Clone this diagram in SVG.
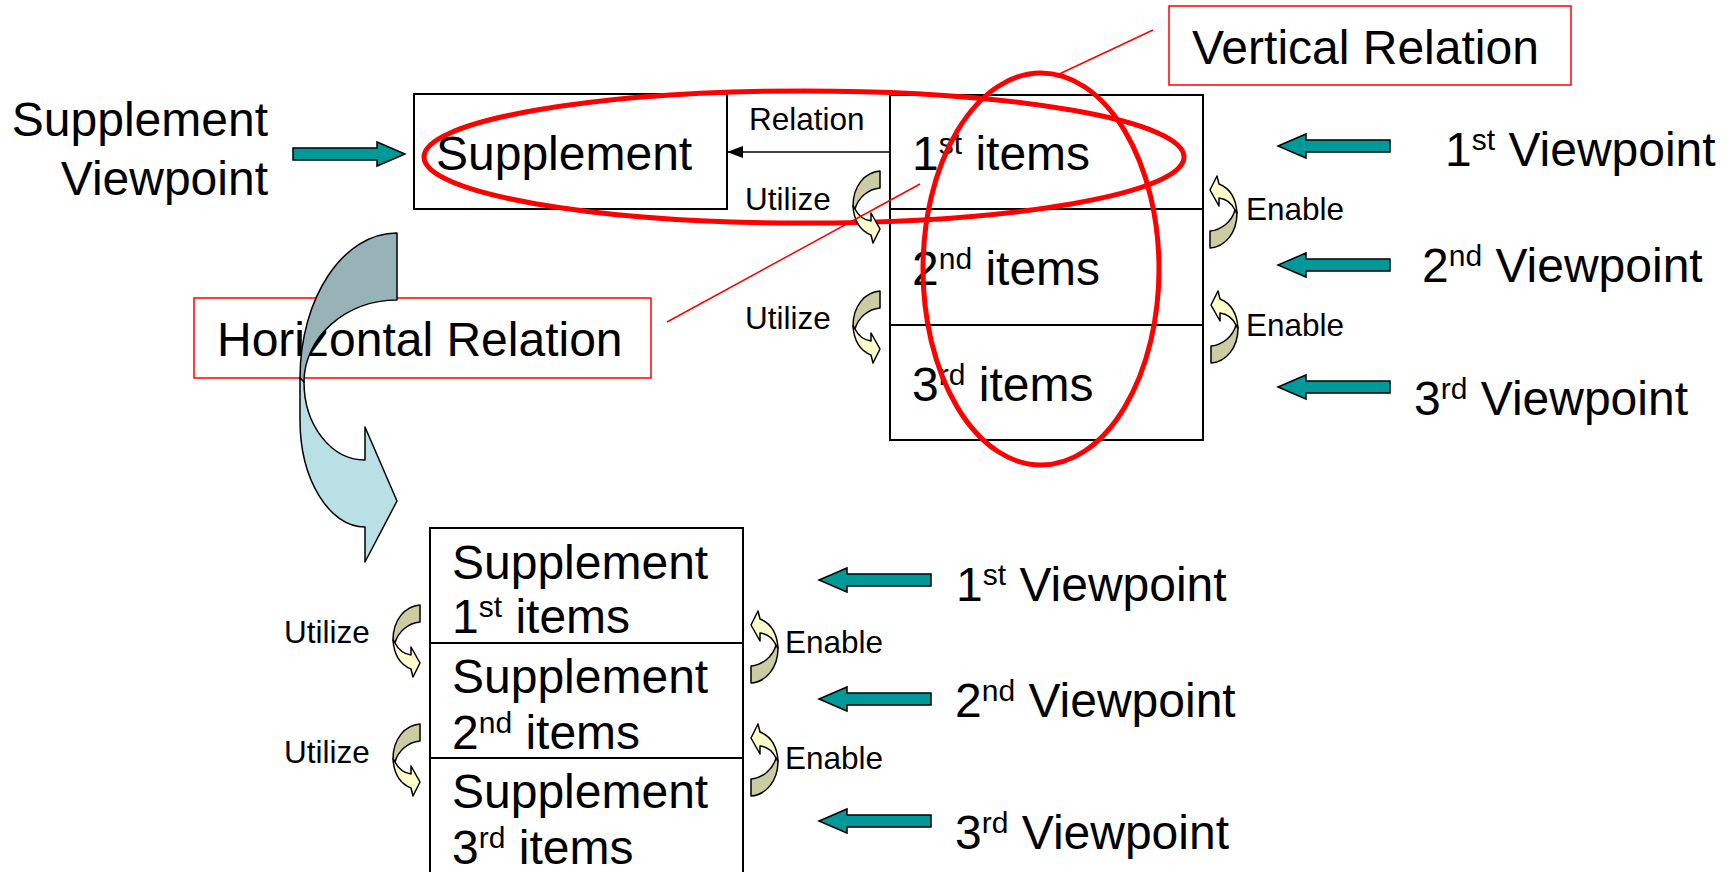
<svg xmlns="http://www.w3.org/2000/svg" width="1727" height="872" viewBox="0 0 1727 872">
  <style>
    text { font-family: "Liberation Sans", Arial, sans-serif; fill: #000; }
    .big { font-size: 48px; }
    .small { font-size: 31.5px; }
    .box { fill: #fff; stroke: #000; stroke-width: 2; }
    .div { stroke: #000; stroke-width: 2; }
    .callout { fill: #fff; stroke: #ff0000; stroke-width: 1.5; }
    .lead { stroke: #ff0000; stroke-width: 1.5; fill: none; }
    .ring { fill: none; stroke: #ff0000; stroke-width: 5; }
    .teal { fill: #009999; stroke: #000; stroke-width: 1.5; }
    .cdark { fill: #cccca3; stroke: #000; stroke-width: 1.5; stroke-linejoin: round; }
    .clight { fill: #ffffcc; stroke: #000; stroke-width: 1.5; stroke-linejoin: round; }
  </style>
  <defs>
    <!-- block arrow pointing right, origin at tail centre -->
    <path id="tealArrow" class="teal" d="M0,-6 H84 V-12 L112,0 L84,12 V6 H0 Z"/>
    <!-- small twisted curved arrow: tail top-right, head bottom-right -->
    <g id="curl">
      <path class="cdark" d="M27,0 C12,1 0,15 0,35 L2,38 C5,27 15,18 27,17 Z"/>
      <path class="clight" d="M0,35 C1,50 8,60 18,64 L20,72 L27,58 L18,42 L18,50 C10,49 5,44 2,38 Z"/>
    </g>
    <marker id="tri" markerWidth="16" markerHeight="12" refX="15" refY="6" orient="auto" markerUnits="userSpaceOnUse">
      <path d="M0,0 L16,6 L0,12 Z" fill="#000"/>
    </marker>
  </defs>

  <rect width="1727" height="872" fill="#fff"/>

  <!-- top-left caption -->
  <g id="supplement-viewpoint">
    <text class="big" x="268" y="136" text-anchor="end">Supplement</text>
    <text class="big" x="268" y="195" text-anchor="end">Viewpoint</text>
  </g>

  <!-- supplement box -->
  <g id="supplement">
    <rect class="box" x="414" y="94" width="313" height="115"/>
    <text class="big" x="436" y="170">Supplement</text>
  </g>

  <!-- stacked items box -->
  <g id="items">
    <rect class="box" x="890" y="95" width="313" height="345"/>
    <line class="div" x1="890" y1="209" x2="1203" y2="209"/>
    <line class="div" x1="890" y1="325" x2="1203" y2="325"/>
    <text class="big" x="912" y="170">1<tspan font-size="30" dy="-16">st</tspan><tspan dy="16"> items</tspan></text>
    <text class="big" x="912" y="285">2<tspan font-size="30" dy="-16">nd</tspan><tspan dy="16"> items</tspan></text>
    <text class="big" x="912" y="401">3<tspan font-size="30" dy="-16">rd</tspan><tspan dy="16"> items</tspan></text>
  </g>

  <!-- right-hand viewpoints (top) -->
  <g id="viewpoints-top">
    <text class="big" x="1445" y="166">1<tspan font-size="30" dy="-16">st</tspan><tspan dy="16"> Viewpoint</tspan></text>
    <text class="big" x="1422" y="282">2<tspan font-size="30" dy="-16">nd</tspan><tspan dy="16"> Viewpoint</tspan></text>
    <text class="big" x="1414" y="415">3<tspan font-size="30" dy="-16">rd</tspan><tspan dy="16"> Viewpoint</tspan></text>
  </g>

  <!-- combined box (bottom) -->
  <g id="combined">
    <rect class="box" x="430" y="528" width="313" height="360"/>
    <line class="div" x1="430" y1="643" x2="743" y2="643"/>
    <line class="div" x1="430" y1="758" x2="743" y2="758"/>
    <text class="big" x="452" y="579">Supplement</text>
    <text class="big" x="452" y="633">1<tspan font-size="30" dy="-16">st</tspan><tspan dy="16"> items</tspan></text>
    <text class="big" x="452" y="693">Supplement</text>
    <text class="big" x="452" y="749">2<tspan font-size="30" dy="-16">nd</tspan><tspan dy="16"> items</tspan></text>
    <text class="big" x="452" y="808">Supplement</text>
    <text class="big" x="452" y="864">3<tspan font-size="30" dy="-16">rd</tspan><tspan dy="16"> items</tspan></text>
  </g>

  <!-- right-hand viewpoints (bottom) -->
  <g id="viewpoints-bottom">
    <text class="big" x="956" y="601">1<tspan font-size="30" dy="-16">st</tspan><tspan dy="16"> Viewpoint</tspan></text>
    <text class="big" x="955" y="717">2<tspan font-size="30" dy="-16">nd</tspan><tspan dy="16"> Viewpoint</tspan></text>
    <text class="big" x="955" y="849">3<tspan font-size="30" dy="-16">rd</tspan><tspan dy="16"> Viewpoint</tspan></text>
  </g>

  <!-- horizontal relation callout -->
  <g id="horizontal-relation">
    <rect class="callout" x="194" y="298" width="457" height="80"/>
    <text class="big" x="217" y="356">Horizontal Relation</text>
  </g>

  <!-- vertical relation callout -->
  <g id="vertical-relation">
    <rect class="callout" x="1169" y="6" width="402" height="79"/>
    <text class="big" x="1192" y="64">Vertical Relation</text>
  </g>

  <!-- highlight rings -->
  <g id="rings">
    <ellipse class="ring" cx="804" cy="157" rx="380" ry="66"/>
    <ellipse class="ring" cx="1041" cy="269" rx="118" ry="196" stroke-width="4.5"/>
  </g>

  <g id="connectors">
    <!-- relation arrow -->
    <line x1="890" y1="152" x2="728" y2="152" stroke="#000" stroke-width="1.5" marker-end="url(#tri)"/>
    <text class="small" x="749" y="130">Relation</text>

    <!-- viewpoint arrows -->
    <use href="#tealArrow" transform="translate(293,154)"/>
    <use href="#tealArrow" transform="translate(1390,146) scale(-1,1)"/>
    <use href="#tealArrow" transform="translate(1390,265) scale(-1,1)"/>
    <use href="#tealArrow" transform="translate(1390,387) scale(-1,1)"/>
    <use href="#tealArrow" transform="translate(931,580) scale(-1,1)"/>
    <use href="#tealArrow" transform="translate(931,699) scale(-1,1)"/>
    <use href="#tealArrow" transform="translate(931,821) scale(-1,1)"/>

    <!-- utilize / enable curls (top) -->
    <use href="#curl" transform="translate(853,171)"/>
    <use href="#curl" transform="translate(853,291)"/>
    <use href="#curl" transform="translate(1237,248) rotate(180)"/>
    <use href="#curl" transform="translate(1238,363) rotate(180)"/>
    <text class="small" x="745" y="210">Utilize</text>
    <text class="small" x="745" y="329">Utilize</text>
    <text class="small" x="1246" y="220">Enable</text>
    <text class="small" x="1246" y="336">Enable</text>

    <!-- utilize / enable curls (bottom) -->
    <use href="#curl" transform="translate(393,605)"/>
    <use href="#curl" transform="translate(393,724)"/>
    <use href="#curl" transform="translate(778,683) rotate(180)"/>
    <use href="#curl" transform="translate(778,796) rotate(180)"/>
    <text class="small" x="284" y="643">Utilize</text>
    <text class="small" x="284" y="763">Utilize</text>
    <text class="small" x="785" y="653">Enable</text>
    <text class="small" x="785" y="769">Enable</text>

    <!-- callout leader lines -->
    <line class="lead" x1="1153" y1="30" x2="1055" y2="76"/>
    <line class="lead" x1="667" y1="322" x2="920" y2="184"/>

    <!-- large twisted arrow from the top structure down to the combined box -->
    <g id="transform-arrow">
      <path d="M397,233 C343,233 300,298 300,378 L304,382 C304,337 346,300 397,300 Z" fill="#98b3b8" stroke="#000" stroke-width="1.5" stroke-linejoin="round"/>
      <path d="M300,378 L300,420 C300,479 329,527 365,527 L365,562 L397,501 L365,427 L365,460 C331,460 304,425 304,382 Z" fill="#b9e0e4" stroke="#000" stroke-width="1.5" stroke-linejoin="round"/>
    </g>
  </g>
</svg>
